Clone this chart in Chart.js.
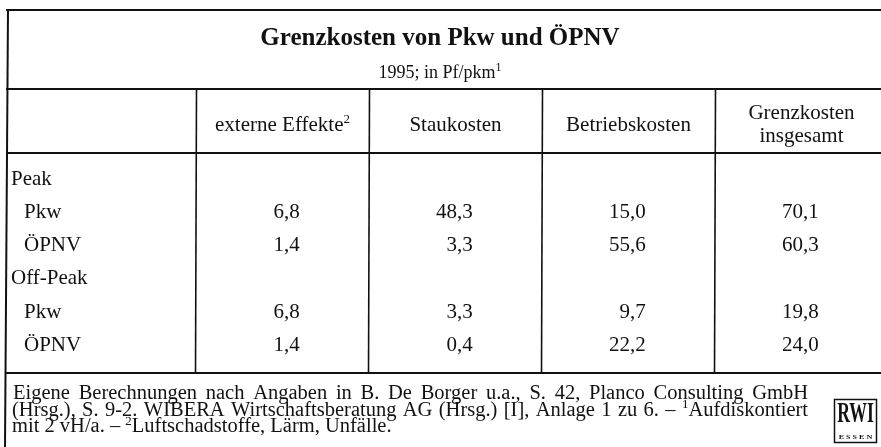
<!DOCTYPE html>
<html>
<head>
<meta charset="utf-8">
<script src="https://cdn.jsdelivr.net/npm/chart.js@4.4.1/dist/chart.umd.min.js"></script>
<style>
html,body{margin:0;padding:0;background:#fff;}
canvas{display:block;}
</style>
</head>
<body>
<canvas id="c" width="881" height="447"></canvas>
<script>
// ---- data ----
const titleText = 'Grenzkosten von Pkw und ÖPNV';
const subtitleText = '1995; in Pf/pkm';
const columnHeaders = [['externe Effekte'], ['Staukosten'], ['Betriebskosten'], ['Grenzkosten', 'insgesamt']];
const rowLabels = ['Peak', 'Pkw', 'ÖPNV', 'Off-Peak', 'Pkw', 'ÖPNV'];
const externeEffekte = [null, 6.8, 1.4, null, 6.8, 1.4];
const staukosten     = [null, 48.3, 3.3, null, 3.3, 0.4];
const betriebskosten = [null, 15.0, 55.6, null, 9.7, 22.2];
const grenzkosten    = [null, 70.1, 60.3, null, 19.8, 24.0];
const footerLines = [
  'Eigene Berechnungen nach Angaben in B. De Borger u.a., S. 42, Planco Consulting GmbH',
  '(Hrsg.), S. 9-2. WIBERA Wirtschaftsberatung AG (Hrsg.) [I], Anlage 1 zu 6. – {1}Aufdiskontiert',
  'mit 2 vH/a. – {2}Luftschadstoffe, Lärm, Unfälle.'
];

const seriesValues = [externeEffekte, staukosten, betriebskosten, grenzkosten];

// ---- layout ----
const FONT = '"Liberation Serif", "Times New Roman", serif';
const COLW = 173;           // px per column unit
const FIRSTDIV = 196;       // px of first column divider
const ROW0 = 177.5;         // px of first row center
const ROWH = 33.3;          // px per row
const W = 881, H = 447;
const INK = '#111';
const BODY = 21;

function fmt(v){ return v.toFixed(1).replace('.', ','); }

// draw text with {n} superscripts
function drawRich(ctx, text, x, y, size, align, bold){
  const parts = text.split(/(\{\d\})/).filter(s => s.length);
  const main = (bold ? 'bold ' : '') + size + 'px ' + FONT;
  const sup = (bold ? 'bold ' : '') + Math.round(size * 0.64) + 'px ' + FONT;
  let total = 0;
  const items = parts.map(p => {
    const m = p.match(/^\{(\d)\}$/);
    const t = m ? m[1] : p;
    ctx.font = m ? sup : main;
    const w = ctx.measureText(t).width;
    total += w;
    return {t, w, sup: !!m};
  });
  let cx = align === 'center' ? x - total / 2 : (align === 'right' ? x - total : x);
  ctx.textAlign = 'left';
  items.forEach(it => {
    ctx.font = it.sup ? sup : main;
    ctx.fillText(it.t, cx, it.sup ? y - size * 0.36 : y);
    cx += it.w;
  });
  return total;
}

function drawJustified(ctx, text, x, y, size, width){
  const words = text.split(' ');
  const main = size + 'px ' + FONT;
  const sup = Math.round(size * 0.64) + 'px ' + FONT;
  const measure = w => {
    let tot = 0;
    w.split(/(\{\d\})/).filter(s => s.length).forEach(p => {
      const m = p.match(/^\{(\d)\}$/);
      ctx.font = m ? sup : main;
      tot += ctx.measureText(m ? m[1] : p).width;
    });
    return tot;
  };
  const ws = words.map(measure);
  const sum = ws.reduce((a, b) => a + b, 0);
  ctx.font = main;
  const sp = ctx.measureText(' ').width;
  let gap = width ? (width - sum) / (words.length - 1) : sp;
  gap = Math.max(gap, sp * 0.6);
  let cx = x;
  words.forEach((w, i) => {
    drawRich(ctx, w, cx, y, size, 'left', false);
    cx += ws[i] + gap;
  });
}

const tablePlugin = {
  id: 'tablePlugin',
  afterDraw(chart){
    const ctx = chart.ctx;
    const xs = chart.scales.x, ys = chart.scales.y;
    ctx.save();
    ctx.fillStyle = INK;
    ctx.strokeStyle = INK;
    ctx.textBaseline = 'alphabetic';

    const yTop = 10, yTitle = 89, yHead = 153, yFoot = 373;
    // horizontal rules
    ctx.lineWidth = 2;
    [yTop, yTitle, yHead, yFoot].forEach(y => {
      ctx.beginPath(); ctx.moveTo(6, y); ctx.lineTo(W, y); ctx.stroke();
    });
    // left border (scan is slightly skewed)
    ctx.beginPath(); ctx.moveTo(8, yTop - 1); ctx.lineTo(5, H); ctx.stroke();
    // column dividers
    ctx.lineWidth = 1.6;
    for (let k = 0; k < seriesValues.length; k++){
      const px = xs.getPixelForValue(k) + 0.5;
      ctx.beginPath(); ctx.moveTo(px, yTitle); ctx.lineTo(px - 1, yFoot); ctx.stroke();
    }

    // title & subtitle
    ctx.textAlign = 'center';
    ctx.font = 'bold 25px ' + FONT;
    ctx.fillText(titleText, 440, 45);
    drawRich(ctx, subtitleText + '{1}', 440, 77.5, 18, 'center', false);

    // column headers
    columnHeaders.forEach((lines, k) => {
      const cx = (xs.getPixelForValue(k) + xs.getPixelForValue(k + 1)) / 2;
      if (lines.length === 1){
        drawRich(ctx, k === 0 ? lines[0] + '{2}' : lines[0], cx, 131, BODY, 'center', false);
      } else {
        drawRich(ctx, lines[0], cx, 119, BODY, 'center', false);
        drawRich(ctx, lines[1], cx, 142, BODY, 'center', false);
      }
    });

    // row labels
    ctx.font = BODY + 'px ' + FONT;
    ctx.textAlign = 'left';
    rowLabels.forEach((lab, i) => {
      const isGroup = seriesValues.every(s => s[i] === null);
      const py = ys.getPixelForValue(i);
      ctx.fillText(lab, isGroup ? 11 : 24, py + 7);
    });

    // values from dataset elements
    ctx.textAlign = 'right';
    chart.data.datasets.forEach((ds, k) => {
      const meta = chart.getDatasetMeta(k);
      meta.data.forEach((el, j) => {
        ctx.fillText(fmt(ds.data[j].v), el.x, el.y + 7);
      });
    });

    // footer
    drawJustified(ctx, footerLines[0], 13, 399, 20.5, 795);
    drawJustified(ctx, footerLines[1], 12, 415.5, 20.5, 796);
    drawJustified(ctx, footerLines[2], 12, 432, 20.5, 0);

    // RWI logo
    ctx.lineWidth = 1.5;
    ctx.strokeRect(834.5, 399.5, 42, 43);
    ctx.textAlign = 'center';
    ctx.font = 'bold 28px ' + FONT;
    ctx.save();
    ctx.translate(855.5, 422);
    ctx.scale(0.63, 1.08);
    ctx.fillText('RWI', 0, 0);
    ctx.restore();
    ctx.font = 'bold 7px ' + FONT;
    ctx.save();
    ctx.translate(855.5, 439);
    ctx.scale(1.15, 1);
    ctx.fillText('E S S E N', 0, 0);
    ctx.restore();
    ctx.restore();
  }
};

const datasets = seriesValues.map((vals, k) => ({
  label: columnHeaders[k].join(' '),
  data: vals.map((v, i) => ({x: k + 0.6, y: i, v})).filter(p => p.v !== null),
  pointRadius: 0,
  showLine: false
}));

new Chart(document.getElementById('c'), {
  type: 'scatter',
  data: {datasets},
  options: {
    responsive: false,
    animation: false,
    events: [],
    layout: {padding: 0},
    plugins: {legend: {display: false}, tooltip: {enabled: false}, title: {display: false}},
    scales: {
      x: {type: 'linear', display: false, min: -FIRSTDIV / COLW, max: (W - FIRSTDIV) / COLW},
      y: {type: 'linear', display: false, reverse: true, min: -ROW0 / ROWH, max: (H - ROW0) / ROWH}
    }
  },
  plugins: [tablePlugin]
});
</script>
</body>
</html>
